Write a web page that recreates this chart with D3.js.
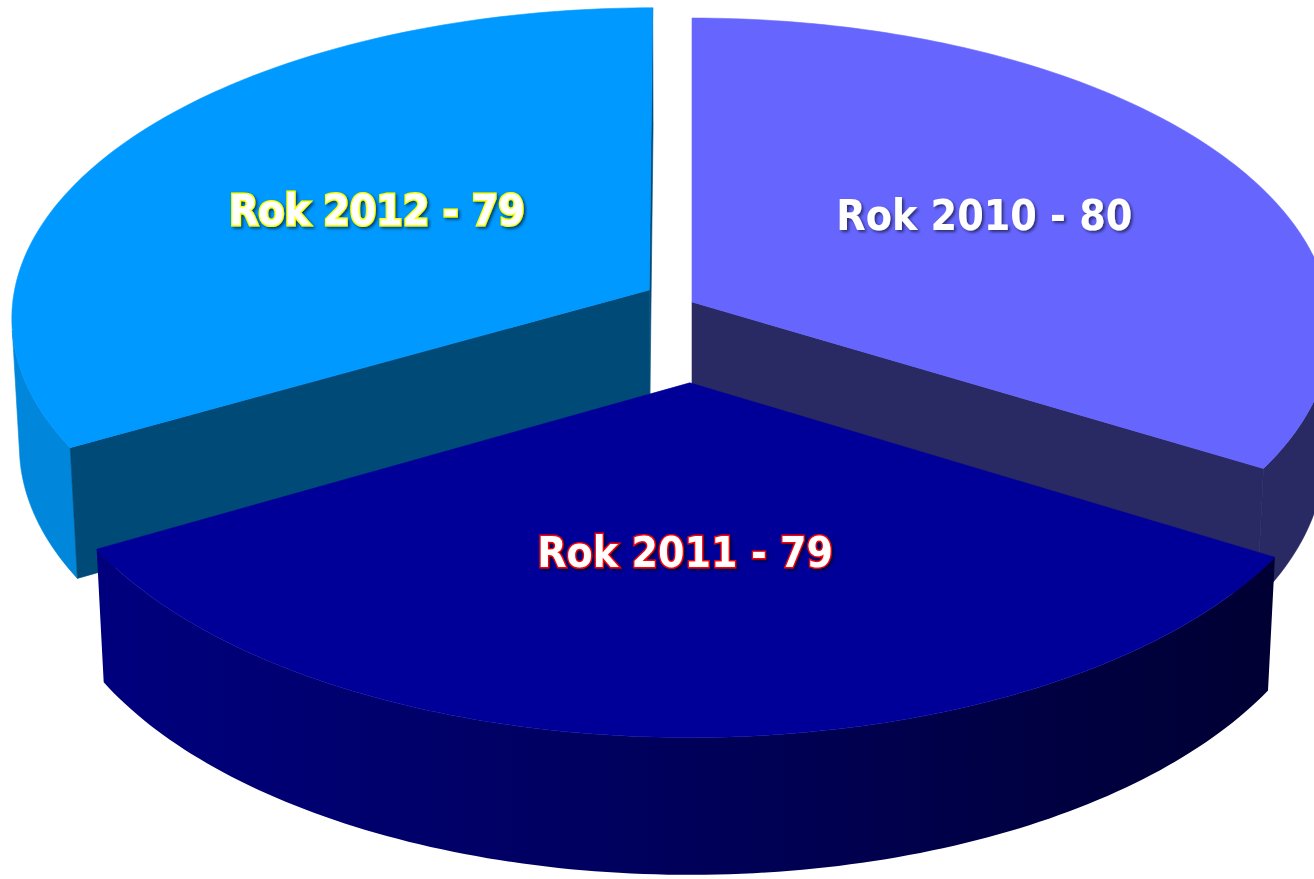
<!DOCTYPE html>
<html>
<head>
<meta charset="utf-8">
<script src="https://d3js.org/d3.v7.min.js"></script>
<style>
  body { margin: 0; background: #fff; }
  svg { display: block; }
</style>
</head>
<body>
<svg id="pie3d" width="1314" height="879"></svg>
<script>
// data
const years = ["Rok 2010", "Rok 2011", "Rok 2012"];
const counts = [80, 79, 79];

// look of each slice
const topColors = ["#6666FF", "#000099", "#0099FF"];
const sideColors = ["#292964", "url(#frontGrad)", "#0087DC"];
const cutColors = ["#292964", "#000066", "#004A78"];
const outlineColors = ["none", "#FF0000", "#FFFF00"];
const explode = [0, 0.256, 0.078];           // pulled out, in radius units
const labelNudge = [[21, -13], [0, 0], [-5, -4]];

// camera (radius of pie = 1)
const cx = 692, cy = 302;
const focal = 6381, dist = 10.02, tilt = 29 * Math.PI / 180;
const thick = 0.231;
const cs = Math.cos(tilt), sn = Math.sin(tilt);
const cam = [0, dist * sn, dist * cs];

function project(p) {
  const yc = p[1] * cs - p[2] * sn;
  const zc = dist - p[1] * sn - p[2] * cs;
  return [cx + focal * p[0] / zc, cy - focal * yc / zc];
}
function facing(n, p) {
  return n[0] * (cam[0] - p[0]) + n[1] * (cam[1] - p[1]) + n[2] * (cam[2] - p[2]) > 0;
}

const svg = d3.select("#pie3d");
const defs = svg.append("defs");

const grad = defs.append("linearGradient").attr("id", "frontGrad");
grad.append("stop").attr("offset", "0%").attr("stop-color", "#00007E");
grad.append("stop").attr("offset", "50%").attr("stop-color", "#00005A");
grad.append("stop").attr("offset", "100%").attr("stop-color", "#000033");

const shadow = defs.append("filter").attr("id", "shadow")
  .attr("x", "-10%").attr("y", "-40%").attr("width", "120%").attr("height", "180%");
shadow.append("feDropShadow").attr("dx", 2).attr("dy", 2)
  .attr("stdDeviation", 1.5).attr("flood-color", "#000").attr("flood-opacity", 0.55);

const poly = d3.line().curve(d3.curveLinearClosed);

const arcs = d3.pie().sort(null).value(d => d)(counts);

const slices = arcs.map((a, i) => {
  const mid = (a.startAngle + a.endAngle) / 2;
  const e = explode[i];
  const o = [e * Math.sin(mid), 0, -e * Math.cos(mid)];
  return { i, a, mid, o, order: o[2] - 0.5 * Math.cos(mid) };
}).sort((p, q) => p.order - q.order);

const g = svg.append("g");

slices.forEach(s => {
  const { i, a, o } = s;
  const rim = (t, y) => [o[0] + Math.sin(t), y, o[2] - Math.cos(t)];
  const apexTop = [o[0], 0, o[2]];
  const apexBot = [o[0], -thick, o[2]];
  const steps = d3.range(0, 121).map(k => a.startAngle + (a.endAngle - a.startAngle) * k / 120);
  const sg = g.append("g").attr("class", "slice");

  // outer curved wall, only the parts turned to the camera
  let run = [];
  const runs = [];
  steps.forEach(t => {
    const n = [Math.sin(t), 0, -Math.cos(t)];
    if (facing(n, rim(t, -thick / 2))) run.push(t);
    else { if (run.length > 1) runs.push(run); run = []; }
  });
  if (run.length > 1) runs.push(run);
  runs.forEach(r => {
    const pts = r.map(t => project(rim(t, 0)))
      .concat(r.slice().reverse().map(t => project(rim(t, -thick))));
    sg.append("path").attr("d", poly(pts))
      .attr("fill", sideColors[i]).attr("stroke", sideColors[i] === "url(#frontGrad)" ? "none" : sideColors[i])
      .attr("stroke-width", 0.6);
  });

  // the two cut faces
  const cuts = [
    { t: a.startAngle, n: [-Math.cos(a.startAngle), 0, -Math.sin(a.startAngle)] },
    { t: a.endAngle, n: [Math.cos(a.endAngle), 0, Math.sin(a.endAngle)] }
  ];
  cuts.forEach(c => {
    const pts3 = [apexTop, rim(c.t, 0), rim(c.t, -thick), apexBot];
    const centre = [(apexTop[0] + rim(c.t, 0)[0]) / 2, -thick / 2, (apexTop[2] + rim(c.t, 0)[2]) / 2];
    if (!facing(c.n, centre)) return;
    sg.append("path").attr("d", poly(pts3.map(project)))
      .attr("fill", cutColors[i]).attr("stroke", cutColors[i]).attr("stroke-width", 0.6);
  });

  // top face
  const topPts = [project(apexTop)].concat(steps.map(t => project(rim(t, 0))));
  sg.append("path").attr("d", poly(topPts))
    .attr("fill", topColors[i]).attr("stroke", topColors[i]).attr("stroke-width", 0.6);
});

// labels, placed half way out along each slice's middle line
const labels = svg.append("g");
arcs.forEach((a, i) => {
  const s = slices.find(d => d.i === i);
  const p = project([s.o[0] + 0.5 * Math.sin(s.mid), 0, s.o[2] - 0.5 * Math.cos(s.mid)]);
  labels.append("text")
    .attr("x", p[0] + labelNudge[i][0])
    .attr("y", p[1] + labelNudge[i][1])
    .attr("dy", "0.36em")
    .attr("text-anchor", "middle")
    .attr("textLength", 296)
    .attr("lengthAdjust", "spacingAndGlyphs")
    .attr("font-family", "'DejaVu Sans', Verdana, sans-serif")
    .attr("font-weight", "bold")
    .attr("font-size", 42)
    .attr("fill", "#FFFFFF")
    .attr("stroke", outlineColors[i])
    .attr("stroke-width", 3)
    .attr("paint-order", "stroke")
    .attr("filter", "url(#shadow)")
    .text(`${years[i]} - ${counts[i]}`);
});
</script>
</body>
</html>
